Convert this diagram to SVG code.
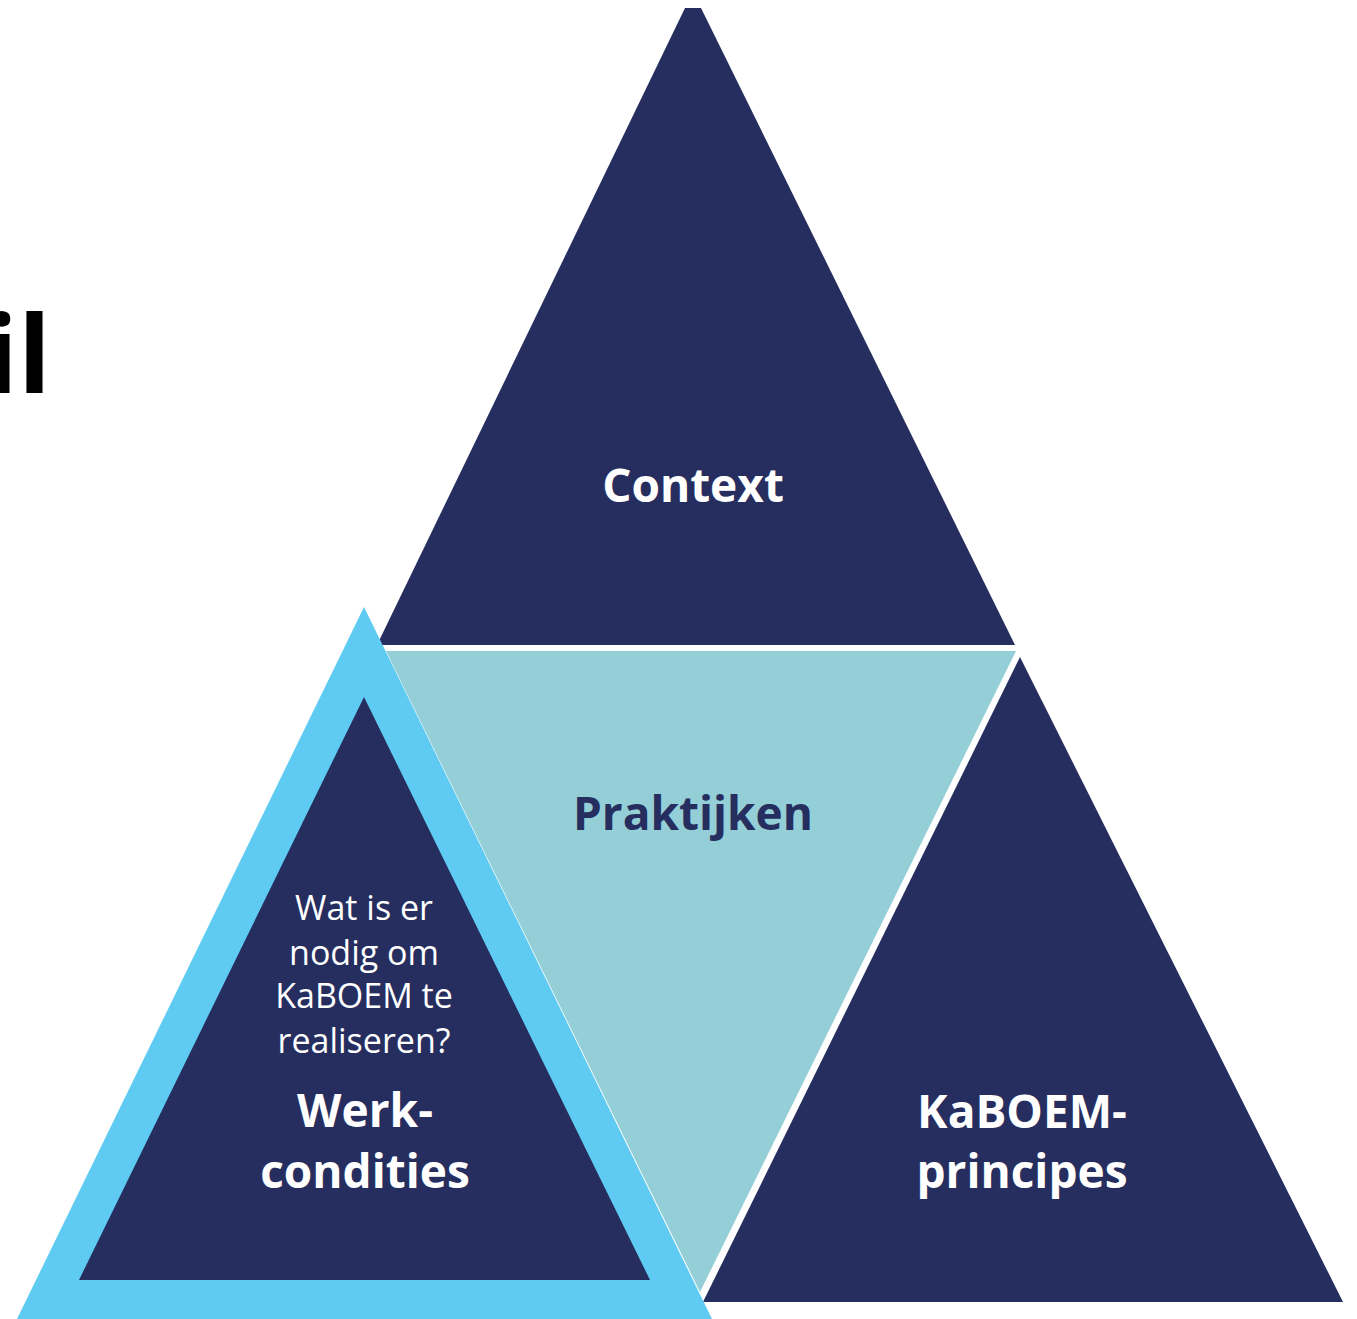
<svg xmlns="http://www.w3.org/2000/svg" width="1357" height="1319" viewBox="0 0 1357 1319">
<style>
.navy{fill:#262e5f}
.teal{fill:#94cfd7}
.sky{fill:#5fcbf2}
.big{font-family:"Open Sans","Liberation Sans",sans-serif;font-weight:bold;font-size:46px;text-anchor:middle}
.small{font-family:"Open Sans","Liberation Sans",sans-serif;font-size:34px;fill:#ffffff;text-anchor:middle}
</style>
<rect width="1357" height="1319" fill="#ffffff"/>
<g id="title">
<text x="51" y="393" font-family="Open Sans, Liberation Sans, sans-serif" font-weight="bold" font-size="108" text-anchor="end" fill="#000000">il</text>
</g>
<g id="context">
<polygon class="navy" points="685,8 701,8 1015,645 377,645"/>
<text class="big" x="693" y="502" fill="#ffffff">Context</text>
</g>
<g id="praktijken">
<polygon class="teal" points="386,651 1016,651 700,1292"/>
<text class="big" x="693" y="830" fill="#262e5f">Praktijken</text>
</g>
<g id="kaboem">
<polygon class="navy" points="1020,657 1343,1302 703,1302"/>
<text class="big" x="1022" y="1128" fill="#ffffff">KaBOEM-</text>
<text class="big" x="1022" y="1188" fill="#ffffff">principes</text>
</g>
<g id="werkcondities">
<polygon class="sky" points="364,607 712,1319 17,1319"/>
<polygon class="navy" points="364,697 650,1280 79,1280"/>
<text class="small" x="364" y="920">Wat is er</text>
<text class="small" x="364" y="965">nodig om</text>
<text class="small" x="364" y="1008">KaBOEM te</text>
<text class="small" x="364" y="1053">realiseren?</text>
<text class="big" x="365" y="1127" fill="#ffffff">Werk-</text>
<text class="big" x="365" y="1188" fill="#ffffff">condities</text>
</g>
<g id="connectors"></g>
</svg>
